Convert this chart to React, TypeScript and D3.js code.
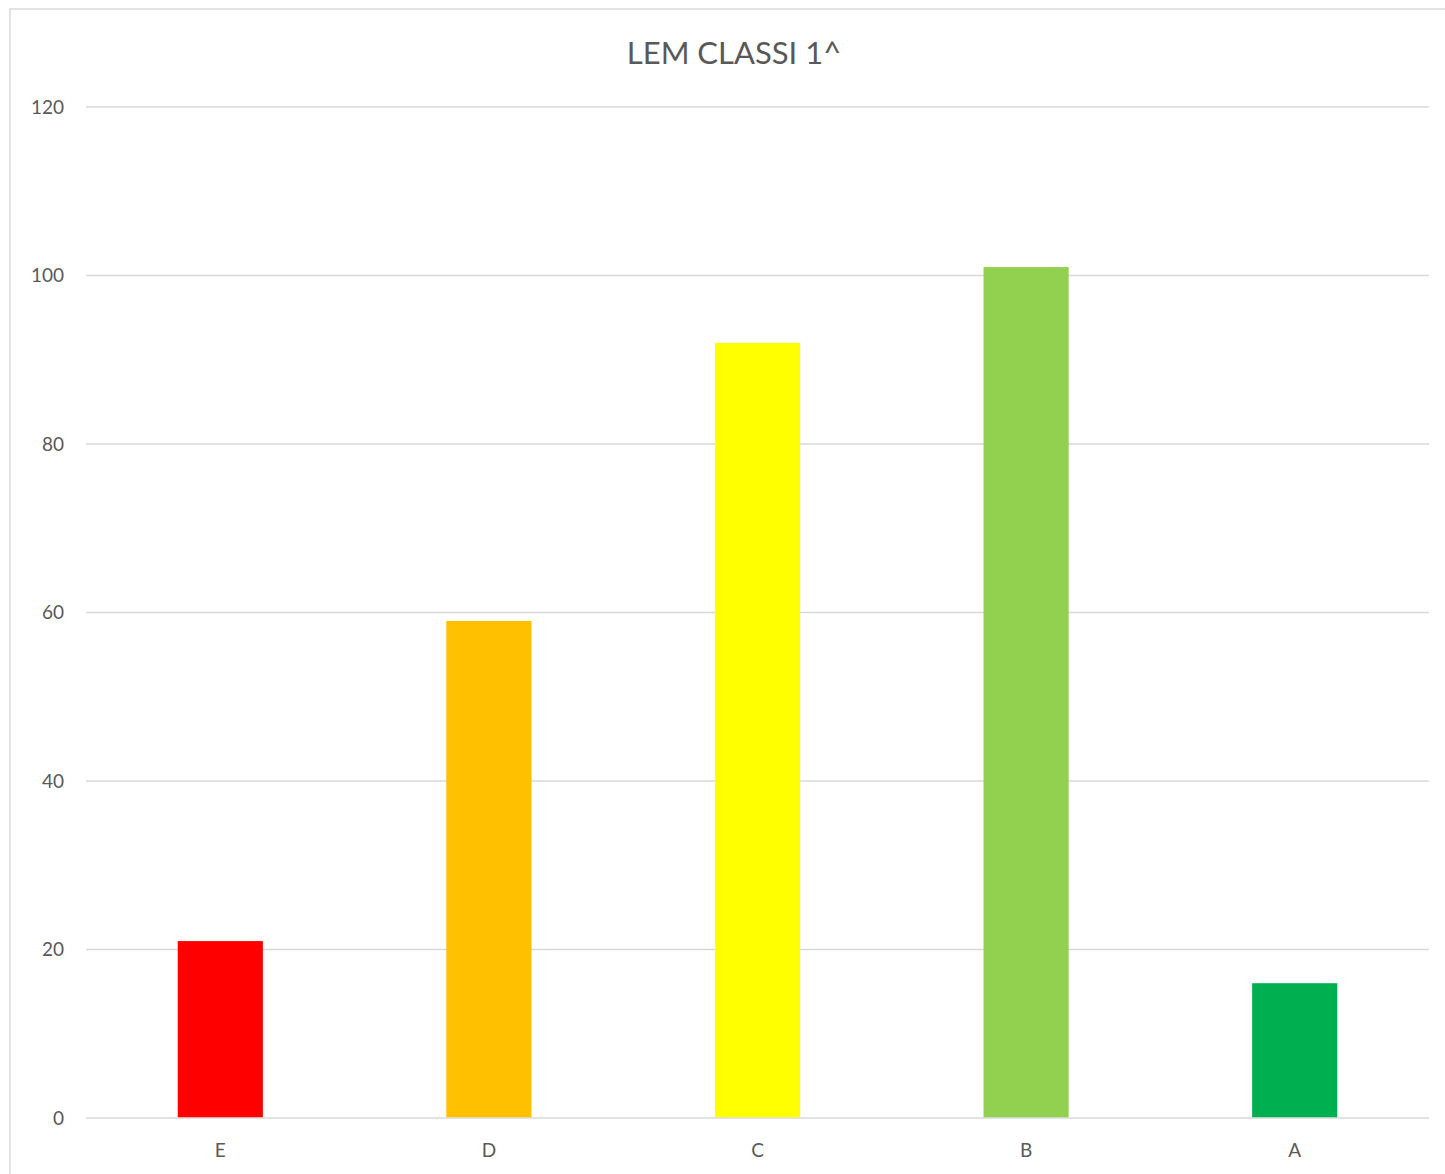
import React, { useEffect, useRef } from 'react';
import * as d3 from 'd3';

const categories = ['E', 'D', 'C', 'B', 'A'];
const values = [21, 59, 92, 101, 16];
const barColors = ['#FF0000', '#FFC000', '#FFFF00', '#92D050', '#00B050'];
const yTicks = [0, 20, 40, 60, 80, 100, 120];
const title = 'LEM CLASSI 1^';

export default function App() {
  const svgRef = useRef<SVGSVGElement>(null);

  useEffect(() => {
    const W = 1445;
    const H = 1174;
    const plot = { left: 86, right: 1429, top: 107, bottom: 1118 };
    const font = 'Lato, "Open Sans", sans-serif';

    const svg = d3.select(svgRef.current).attr('width', W).attr('height', H);
    svg.selectAll('*').remove();

    // chart area border
    svg
      .append('rect')
      .attr('x', 10)
      .attr('y', 9)
      .attr('width', 1460)
      .attr('height', 1200)
      .attr('fill', '#fff')
      .attr('stroke', '#d9d9d9')
      .attr('stroke-width', 1.5);

    const x = d3.scaleBand<string>().domain(categories).range([plot.left, plot.right]).padding(0);
    const y = d3.scaleLinear().domain([0, 120]).range([plot.bottom, plot.top]);

    // grid
    svg
      .append('g')
      .selectAll('line')
      .data(yTicks)
      .join('line')
      .attr('x1', plot.left)
      .attr('x2', plot.right)
      .attr('y1', (d) => y(d))
      .attr('y2', (d) => y(d))
      .attr('stroke', '#d9d9d9')
      .attr('stroke-width', 1.5);

    // y labels
    svg
      .append('g')
      .selectAll('text')
      .data(yTicks)
      .join('text')
      .attr('x', 64)
      .attr('y', (d) => y(d))
      .attr('dy', '0.36em')
      .attr('text-anchor', 'end')
      .attr('font-family', font)
      .attr('font-size', 19)
      .attr('fill', '#595959')
      .text((d) => d);

    const barW = x.bandwidth() * 0.317;

    svg
      .append('g')
      .selectAll('rect')
      .data(values)
      .join('rect')
      .attr('x', (_, i) => x(categories[i])! + x.bandwidth() / 2 - barW / 2)
      .attr('y', (d) => y(d))
      .attr('width', barW)
      .attr('height', (d) => plot.bottom - y(d) - 0.75)
      .attr('fill', (_, i) => barColors[i]);

    // x labels
    svg
      .append('g')
      .selectAll('text')
      .data(categories)
      .join('text')
      .attr('x', (d) => x(d)! + x.bandwidth() / 2)
      .attr('y', 1157)
      .attr('text-anchor', 'middle')
      .attr('font-family', font)
      .attr('font-size', 19)
      .attr('fill', '#595959')
      .text((d) => d);

    svg
      .append('text')
      .attr('x', 734)
      .attr('y', 64)
      .attr('text-anchor', 'middle')
      .attr('font-family', font)
      .attr('font-size', 31)
      .attr('fill', '#595959')
      .text(title);
  }, []);

  return (
    <svg
      ref={svgRef}
      style={{ position: 'absolute', left: 0, top: 0, display: 'block' }}
    ></svg>
  );
}
